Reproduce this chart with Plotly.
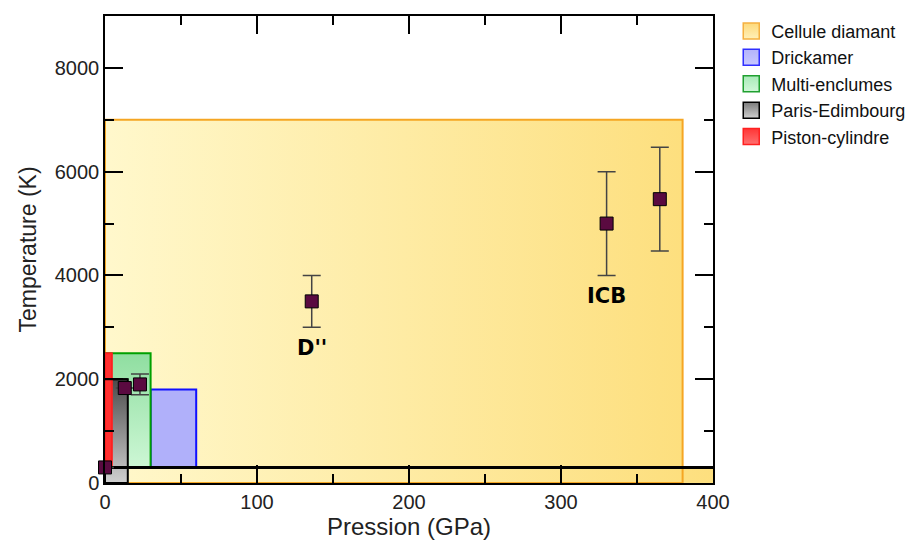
import plotly.graph_objects as go

# ---- data ----
technique_names = ["Cellule diamant", "Drickamer", "Multi-enclumes", "Paris-Edimbourg", "Piston-cylindre"]
p_min = [0, 30, 0, 0, 0]          # GPa
p_max = [380, 60, 30, 15, 4.5]    # GPa
t_min = [0, 300, 300, 0, 300]     # K
t_max = [7000, 1800, 2500, 2000, 2500]  # K

# ambient strip
strip_p = [0, 400]
strip_t = [0, 300]
ambient_T = 300

pt_p = [0, 13, 23, 136, 330, 365]
pt_t = [300, 1830, 1900, 3500, 5000, 5470]
pt_err = [0, 0, 200, 500, 1000, 1000]

label_text = ["D''", "ICB"]
label_p = [136, 330]
label_t = [2600, 3600]

x_ticks = [0, 100, 200, 300, 400]
y_ticks = [0, 2000, 4000, 6000, 8000]

# ---- styles ----
line_cols = ["#f5a623", "#1010ff", "#00a000", "#000000", "#ff2020"]
grads = [
    ("horizontal", [[0, "#fff8cc"], [1, "#fddf7e"]]),
    ("vertical", [[0, "#b0b0fa"], [1, "#b0b0fa"]]),
    ("vertical", [[0, "#cdf7d5"], [1, "#8fdea0"]]),
    ("vertical", [[0, "#d0d0d0"], [1, "#4a4a4a"]]),
    ("vertical", [[0, "#ff3030"], [1, "#ff3030"]]),
]
legend_fill = ["#fdd97a", "#b4b4fa", "#a8eab8", "#7a7a7a", "#ff3535"]
legend_grad = ["#fff0b8", "#c8c8ff", "#d0f7d8", "#cfcfcf", "#ff7070"]
legend_line = ["#f5b040", "#3030ff", "#20a030", "#000000", "#ff2020"]

fig = go.Figure()

def rect(x0, x1, y0, y1):
    return [x0, x1, x1, x0, x0], [y0, y0, y1, y1, y0]

# ambient strip part of diamond cell
xs, ys = rect(strip_p[0], strip_p[1], strip_t[0], strip_t[1])
fig.add_trace(go.Scatter(x=xs, y=ys, mode="lines", fill="toself", line=dict(width=0, color="#fddf7e"),
                         fillgradient=dict(type=grads[0][0], colorscale=grads[0][1]),
                         showlegend=False, hoverinfo="skip"))

for i, name in enumerate(technique_names):
    xs, ys = rect(p_min[i], p_max[i], t_min[i], t_max[i])
    fig.add_trace(go.Scatter(x=xs, y=ys, mode="lines", fill="toself", name=name,
                             line=dict(width=2, color=line_cols[i]),
                             fillgradient=dict(type=grads[i][0], colorscale=grads[i][1]),
                             showlegend=False, hoverinfo="skip"))

# Paris-Edimbourg top edge over piston-cylindre
fig.add_trace(go.Scatter(x=[p_min[3], p_max[3]], y=[t_max[3], t_max[3]], mode="lines",
                         line=dict(width=2, color="#000000"), showlegend=False, hoverinfo="skip"))

# ambient temperature line
fig.add_trace(go.Scatter(x=strip_p, y=[ambient_T, ambient_T], mode="lines",
                         line=dict(width=3, color="#000000"), showlegend=False, hoverinfo="skip"))

# points
fig.add_trace(go.Scatter(x=pt_p, y=pt_t, mode="markers", showlegend=False, cliponaxis=False,
                         marker=dict(symbol="square", size=13, color="#5a0a40",
                                     line=dict(width=1, color="#000000")),
                         error_y=dict(type="data", array=pt_err, visible=True,
                                      color="#444444", thickness=1.5, width=9)))

# legend entries
for i, name in enumerate(technique_names):
    fig.add_trace(go.Scatter(x=[None], y=[None], mode="markers", name=name,
                             marker=dict(symbol="square", size=16, color=legend_fill[i],
                                         gradient=dict(type="vertical", color=legend_grad[i]),
                                         line=dict(width=1.5, color=legend_line[i]))))

for txt, px, py in zip(label_text, label_p, label_t):
    fig.add_annotation(x=px, y=py, text="<b>%s</b>" % txt, showarrow=False,
                       font=dict(family="DejaVu Sans", size=21, color="#000000"))

axis_common = dict(showline=True, linecolor="#000000", linewidth=1.5, mirror="ticks",
                   ticks="inside", ticklen=18, tickwidth=1.5, tickcolor="#000000",
                   showgrid=False, zeroline=False,
                   tickfont=dict(family="Liberation Sans", size=20, color="#222222"))

fig.update_xaxes(range=[0, 400], tickvals=x_ticks, title=dict(text="Pression (GPa)", standoff=2,
                 font=dict(family="Liberation Sans", size=24, color="#222222")),
                 minor=dict(dtick=50, ticks="inside", ticklen=9, tickwidth=1.5, tickcolor="#000000"),
                 **axis_common)
fig.update_yaxes(range=[0, 9000], tickvals=y_ticks, title=dict(text="Temperature (K)", standoff=12,
                 font=dict(family="Liberation Sans", size=23, color="#222222")),
                 minor=dict(dtick=1000, ticks="inside", ticklen=9, tickwidth=1.5, tickcolor="#000000"),
                 **axis_common)

fig.update_layout(
    width=919, height=543,
    margin=dict(l=105, r=206, t=16, b=60, autoexpand=False),
    plot_bgcolor="#ffffff", paper_bgcolor="#ffffff",
    legend=dict(x=1.03, y=1.007, xanchor="left", yanchor="top",
                font=dict(family="Liberation Sans", size=18, color="#111111"),
                tracegroupgap=0, itemwidth=30, bgcolor="rgba(0,0,0,0)"),
)

fig.write_html("out.html")
